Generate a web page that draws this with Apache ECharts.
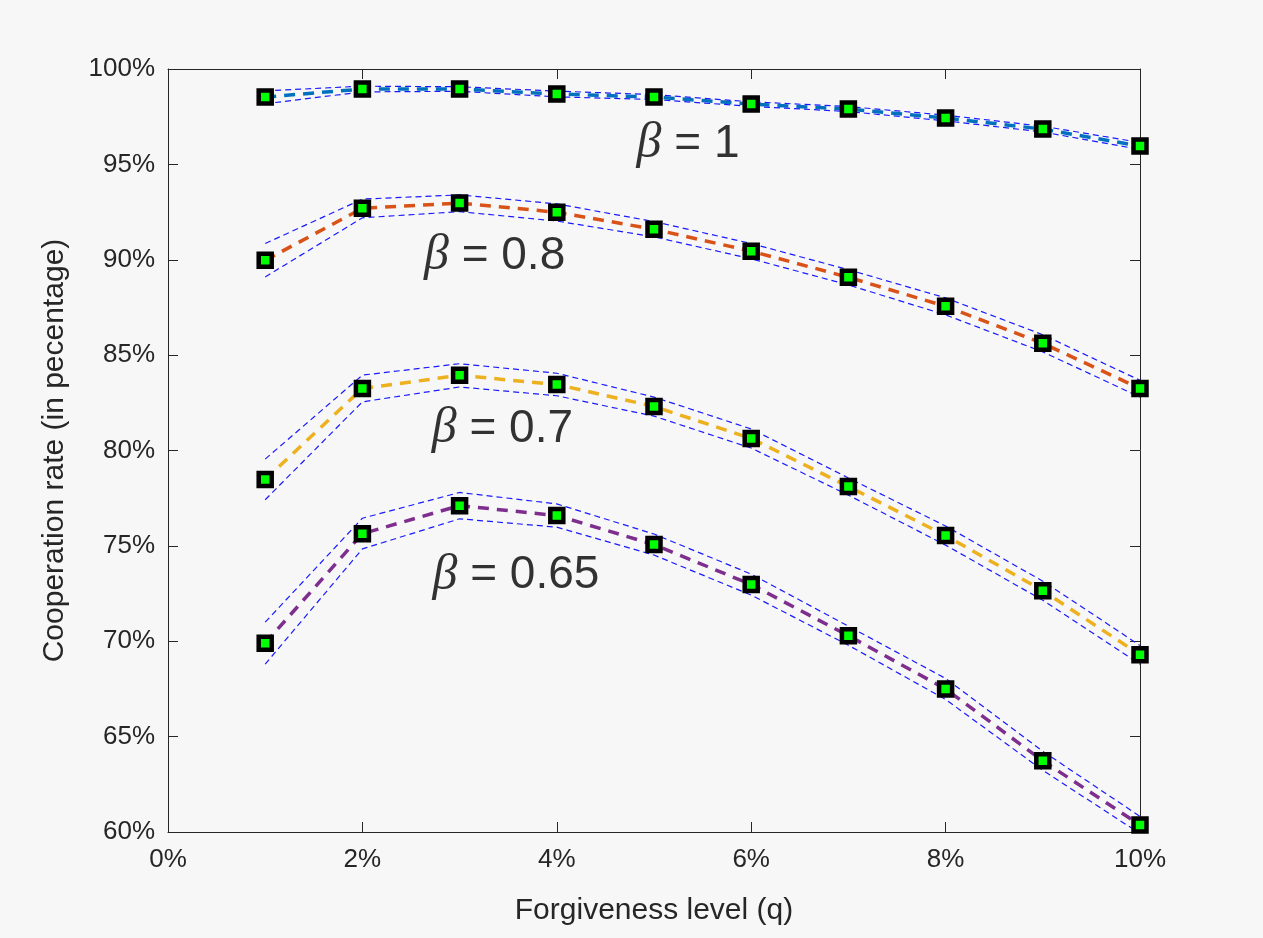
<!DOCTYPE html>
<html>
<head>
<meta charset="utf-8">
<script src="https://cdn.jsdelivr.net/npm/echarts@6/dist/echarts.min.js"></script>
<style>
html,body{margin:0;padding:0;background:#f7f7f7;}
#chart{width:1263px;height:938px;}
</style>
</head>
<body>
<div id="chart"></div>
<script>
// Forgiveness level q (%)
const qLevels = [1, 2, 3, 4, 5, 6, 7, 8, 9, 10];
const xTicks = [0, 2, 4, 6, 8, 10];
const yTicks = [60, 65, 70, 75, 80, 85, 90, 95, 100];

// Cooperation rate (%) per beta
const beta1    = [98.53, 98.95, 98.95, 98.69, 98.53, 98.16, 97.90, 97.43, 96.85, 95.96];
const beta1Up  = [98.85, 99.10, 99.07, 98.84, 98.66, 98.28, 98.03, 97.58, 97.00, 96.15];
const beta1Lo  = [98.18, 98.80, 98.83, 98.54, 98.40, 98.04, 97.77, 97.28, 96.70, 95.78];

const beta08   = [89.97, 92.70, 92.97, 92.49, 91.60, 90.45, 89.08, 87.56, 85.62, 83.25];
const beta08Up = [90.85, 93.18, 93.40, 92.93, 92.00, 90.85, 89.48, 88.00, 86.07, 83.68];
const beta08Lo = [89.10, 92.20, 92.52, 92.03, 91.20, 90.05, 88.68, 87.11, 85.17, 82.80];

const beta07   = [78.48, 83.25, 83.94, 83.46, 82.31, 80.63, 78.11, 75.54, 72.65, 69.29];
const beta07Up = [79.55, 83.95, 84.55, 84.05, 82.80, 81.13, 78.56, 76.04, 73.15, 69.78];
const beta07Lo = [77.42, 82.55, 83.33, 82.87, 81.80, 80.13, 77.66, 75.04, 72.15, 68.80];

const beta065   = [69.90, 75.64, 77.11, 76.59, 75.07, 72.97, 70.29, 67.50, 63.73, 60.37];
const beta065Up = [71.00, 76.45, 77.80, 77.20, 75.62, 73.52, 70.79, 68.05, 64.23, 60.82];
const beta065Lo = [68.80, 74.84, 76.42, 75.98, 74.52, 72.42, 69.79, 66.95, 63.23, 59.92];

const lineColors = ['#0072BD', '#D95319', '#EDB120', '#7E2F8E'];
const betaNames = ['1', '0.8', '0.7', '0.65'];
const means = [beta1, beta08, beta07, beta065];
const uppers = [beta1Up, beta08Up, beta07Up, beta065Up];
const lowers = [beta1Lo, beta08Lo, beta07Lo, beta065Lo];
// annotation anchors (data units: q %, rate %)
const labelAnchors = [[5.35, 96.05], [3.36, 90.2], [3.44, 81.12], [3.58, 73.45]];

const pairs = arr => qLevels.map((q, i) => [q, arr[i]]);

const series = [];
means.forEach((m, k) => {
  series.push({
    type: 'line', data: pairs(m), symbol: 'none', z: 2,
    lineStyle: {color: lineColors[k], width: 3.5, type: [11, 8]}
  });
});
means.forEach((m, k) => {
  [uppers[k], lowers[k]].forEach(b => {
    series.push({
      type: 'line', data: pairs(b), symbol: 'none', z: 3,
      lineStyle: {color: '#1a1aff', width: 1.2, type: [6, 4]}
    });
  });
});
means.forEach((m, k) => {
  series.push({
    type: 'scatter', data: pairs(m), symbol: 'rect', symbolSize: 13, z: 5,
    itemStyle: {color: '#00ff00', borderColor: '#000000', borderWidth: 4.5, opacity: 1}
  });
});
series.push({
  type: 'scatter', symbolSize: 0, z: 6, silent: true,
  itemStyle: {color: 'transparent'},
  data: labelAnchors.map((a, k) => ({value: a, name: betaNames[k]})),
  label: {
    show: true, position: 'inside', align: 'center', verticalAlign: 'middle',
    formatter: p => '{b|β} {t|= ' + p.name + '}',
    color: '#000000', textBorderWidth: 0, textBorderColor: 'transparent',
    fontSize: 46, fontFamily: 'Liberation Sans, Arial, sans-serif',
    rich: {
      b: {fontStyle: 'italic', fontSize: 50, color: '#000000', textBorderWidth: 0, fontFamily: 'Liberation Serif, DejaVu Serif, serif'},
      t: {fontSize: 46, color: '#000000', textBorderWidth: 0, fontFamily: 'Liberation Sans, Arial, sans-serif'}
    }
  }
});

const axisLineStyle = {color: '#262626', width: 1};
const tickLabelStyle = {color: '#262626', fontSize: 26, fontFamily: 'Liberation Sans, Arial, sans-serif'};

const chart = echarts.init(document.getElementById('chart'));
chart.setOption({
  backgroundColor: '#f7f7f7',
  animation: false,
  grid: {left: 168, right: 123, top: 69, bottom: 106, show: false},
  xAxis: [{
    type: 'value', min: xTicks[0], max: xTicks[xTicks.length - 1], interval: 2,
    name: 'Forgiveness level (q)', nameLocation: 'middle', nameGap: 64,
    nameTextStyle: {color: '#262626', fontSize: 30, fontFamily: 'Liberation Sans, Arial, sans-serif'},
    axisLine: {show: true, lineStyle: axisLineStyle},
    axisTick: {show: true, inside: true, length: 10, lineStyle: axisLineStyle},
    axisLabel: Object.assign({formatter: '{value}%', margin: 15}, tickLabelStyle),
    splitLine: {show: false}
  }, {
    type: 'value', position: 'top', min: 0, max: 10, interval: 2,
    axisLine: {show: true, onZero: false, lineStyle: axisLineStyle},
    axisTick: {show: true, inside: true, length: 10, lineStyle: axisLineStyle},
    axisLabel: {show: false}, splitLine: {show: false}
  }],
  yAxis: [{
    type: 'value', min: yTicks[0], max: yTicks[yTicks.length - 1], interval: 5,
    name: 'Cooperation rate (in pecentage)', nameLocation: 'middle', nameGap: 98, nameRotate: 90,
    nameTextStyle: {color: '#262626', fontSize: 30, fontFamily: 'Liberation Sans, Arial, sans-serif'},
    axisLine: {show: true, lineStyle: axisLineStyle},
    axisTick: {show: true, inside: true, length: 10, lineStyle: axisLineStyle},
    axisLabel: Object.assign({formatter: '{value}%', margin: 13}, tickLabelStyle),
    splitLine: {show: false}
  }, {
    type: 'value', position: 'right', min: 60, max: 100, interval: 5,
    axisLine: {show: true, onZero: false, lineStyle: axisLineStyle},
    axisTick: {show: true, inside: true, length: 10, lineStyle: axisLineStyle},
    axisLabel: {show: false}, splitLine: {show: false}
  }],
  series: series
});
</script>
</body>
</html>
